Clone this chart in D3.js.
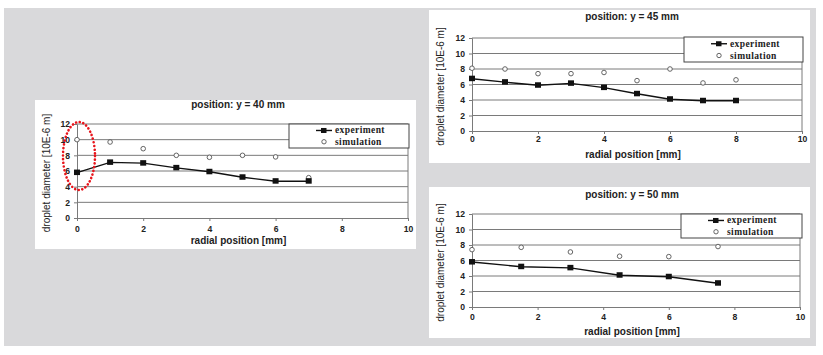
<!DOCTYPE html>
<html><head><meta charset="utf-8">
<script src="https://cdn.jsdelivr.net/npm/d3@7"></script>
<style>
html,body{margin:0;padding:0;background:#fff;}
svg{display:block;}
</style></head>
<body>
<svg id="c" width="823" height="355"></svg>
<script>
// ---- data ----
const xTicks = [0, 2, 4, 6, 8, 10];
const yTicks = [0, 2, 4, 6, 8, 10, 12];
const seriesNames = ["experiment", "simulation"];
const titles = ["position: y = 40 mm", "position: y = 45 mm", "position: y = 50 mm"];
const xLabel = "radial position [mm]";
const yLabel = "droplet diameter [10E-6 m]";

const x40 = [0, 1, 2, 3, 4, 5, 6, 7];
const exp40 = [5.8, 7.1, 7.0, 6.4, 5.9, 5.2, 4.7, 4.7];
const sim40 = [10.0, 9.7, 8.85, 8.0, 7.75, 8.0, 7.8, 5.15];

const x45 = [0, 1, 2, 3, 4, 5, 6, 7, 8];
const exp45 = [6.75, 6.3, 5.9, 6.15, 5.6, 4.8, 4.1, 3.9, 3.9];
const sim45 = [8.1, 8.0, 7.4, 7.4, 7.55, 6.5, 8.0, 6.2, 6.6];

const x50 = [0, 1.5, 3, 4.5, 6, 7.5];
const exp50 = [5.8, 5.2, 5.05, 4.1, 3.9, 3.07];
const sim50 = [7.4, 7.7, 7.1, 6.55, 6.5, 7.8];

// ---- drawing ----
const svg = d3.select("#c");
svg.append("rect").attr("x", 4).attr("y", 8).attr("width", 812).attr("height", 338).attr("fill", "#d9d9db");

const panels = [
  {title: titles[0], xs: x40, exp: exp40, sim: sim40,
   box: [35, 100, 381, 149], px: [77, 408], py: [218, 124], titleX: 238, titleY: 108,
   tickY: 232, xlabY: 244, ylabX: 50, legend: [289, 124, 120, 24], ellipse: true},
  {title: titles[1], xs: x45, exp: exp45, sim: sim45,
   box: [429, 10, 381, 153], px: [472, 802], py: [131, 38], titleX: 632, titleY: 20,
   tickY: 142, xlabY: 158, ylabX: 444, legend: [684, 37, 119, 25]},
  {title: titles[2], xs: x50, exp: exp50, sim: sim50,
   box: [429, 187, 381, 151], px: [472, 800], py: [307, 214], titleX: 632, titleY: 198,
   tickY: 320, xlabY: 335, ylabX: 444, legend: [681, 214, 121, 24]}
];

const sans = "Arial, 'Liberation Sans', sans-serif";
const serif = "'Times New Roman', 'Liberation Serif', serif";

panels.forEach(p => {
  const g = svg.append("g");
  g.append("rect").attr("x", p.box[0]).attr("y", p.box[1]).attr("width", p.box[2]).attr("height", p.box[3]).attr("fill", "#fff");

  const x = d3.scaleLinear().domain([0, 10]).range(p.px);
  const y = d3.scaleLinear().domain([0, 12]).range(p.py);

  // gridlines
  g.selectAll(".grid").data(yTicks.filter(t => t > 0)).enter().append("line")
    .attr("x1", p.px[0]).attr("x2", p.px[1])
    .attr("y1", d => y(d)).attr("y2", d => y(d))
    .attr("stroke", "#7a7a7a").attr("stroke-width", 1);
  // right border
  g.append("line").attr("x1", p.px[1]).attr("x2", p.px[1]).attr("y1", p.py[0]).attr("y2", p.py[1])
    .attr("stroke", "#7a7a7a");

  // axes
  const xa = g.append("g").attr("transform", `translate(0,${p.py[0]})`)
    .call(d3.axisBottom(x).tickValues(xTicks).tickSize(3).tickFormat(d3.format("d")));
  const ya = g.append("g").attr("transform", `translate(${p.px[0]},0)`)
    .call(d3.axisLeft(y).tickValues(yTicks).tickSize(3).tickFormat(d3.format("d")));
  [xa, ya].forEach(a => {
    a.select(".domain").attr("stroke", "#7a7a7a");
    a.selectAll(".tick line").attr("stroke", "#7a7a7a");
    a.selectAll("text").attr("font-family", sans).attr("font-size", 8.6).attr("font-weight", "bold").attr("fill", "#222");
  });
  xa.selectAll("text").attr("dy", null).attr("y", p.tickY - p.py[0]);
  ya.selectAll("text").attr("x", -7);

  // titles
  g.append("text").attr("x", p.titleX).attr("y", p.titleY).attr("text-anchor", "middle")
    .attr("font-family", sans).attr("font-size", 10).attr("font-weight", "bold").attr("fill", "#222").text(p.title);
  g.append("text").attr("x", (p.px[0] + p.px[1]) / 2 - 4).attr("y", p.xlabY).attr("text-anchor", "middle")
    .attr("font-family", sans).attr("font-size", 10).attr("font-weight", "bold").attr("fill", "#222").text(xLabel);
  g.append("text").attr("transform", `translate(${p.ylabX},${(p.py[0] + p.py[1]) / 2 + 2}) rotate(-90)`)
    .attr("text-anchor", "middle").attr("font-family", sans).attr("font-size", 10).attr("fill", "#222").text(yLabel);

  // simulation points
  g.selectAll(".sim").data(p.xs.map((d, i) => [d, p.sim[i]])).enter().append("circle")
    .attr("cx", d => x(d[0])).attr("cy", d => y(d[1])).attr("r", 2.3)
    .attr("fill", "#fff").attr("stroke", "#555").attr("stroke-width", 0.9);

  // experiment line
  const pts = p.xs.map((d, i) => [d, p.exp[i]]);
  g.append("path").datum(pts)
    .attr("d", d3.line().x(d => x(d[0])).y(d => y(d[1])))
    .attr("fill", "none").attr("stroke", "#111").attr("stroke-width", 1.4);
  g.selectAll(".exp").data(pts).enter().append("rect")
    .attr("x", d => x(d[0]) - 3).attr("y", d => y(d[1]) - 3).attr("width", 6).attr("height", 5.5)
    .attr("fill", "#111");

  // legend
  const [lx, ly, lw, lh] = p.legend;
  g.append("rect").attr("x", lx).attr("y", ly).attr("width", lw).attr("height", lh)
    .attr("fill", "#fff").attr("stroke", "#444").attr("stroke-width", 1);
  const r1 = ly + lh * 0.27, r2 = ly + lh * 0.74;
  g.append("line").attr("x1", lx + 27).attr("x2", lx + 43).attr("y1", r1).attr("y2", r1).attr("stroke", "#111").attr("stroke-width", 1.4);
  g.append("rect").attr("x", lx + 32).attr("y", r1 - 2.5).attr("width", 5.5).attr("height", 5).attr("fill", "#111");
  g.append("circle").attr("cx", lx + 35).attr("cy", r2).attr("r", 2.2).attr("fill", "#fff").attr("stroke", "#555").attr("stroke-width", 0.9);
  g.append("text").attr("x", lx + 46).attr("y", r1 + 3).attr("font-family", serif).attr("font-size", 9.5)
    .attr("font-weight", "bold").attr("fill", "#222").attr("letter-spacing", 0.4).text(seriesNames[0]);
  g.append("text").attr("x", lx + 46).attr("y", r2 + 3).attr("font-family", serif).attr("font-size", 9.5)
    .attr("font-weight", "bold").attr("fill", "#222").attr("letter-spacing", 0.4).text(seriesNames[1]);

  if (p.ellipse) {
    g.append("ellipse").attr("cx", x(0) + 2).attr("cy", 156).attr("rx", 16).attr("ry", 34)
      .attr("fill", "none").attr("stroke", "#e8141b").attr("stroke-width", 2.6)
      .attr("stroke-dasharray", "0.1 3.6").attr("stroke-linecap", "round");
  }
});
</script>
</body></html>
